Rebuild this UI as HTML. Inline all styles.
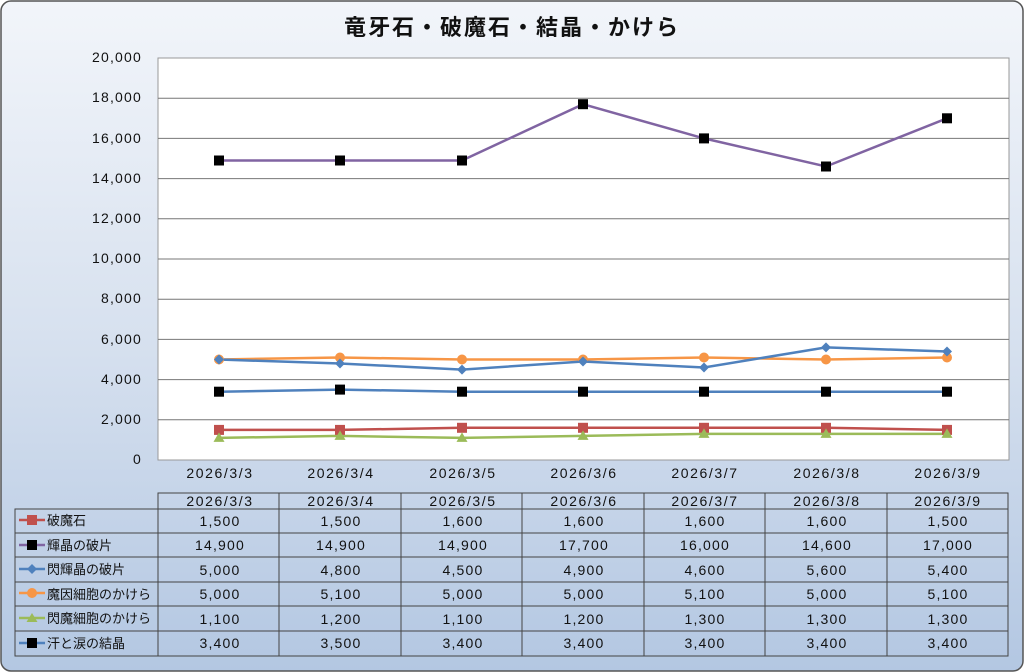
<!DOCTYPE html>
<html><head><meta charset="utf-8"><style>
body{margin:0;width:1024px;height:672px;overflow:hidden;background:#fff}
svg{display:block;font-family:"Liberation Sans","Noto Sans CJK JP",sans-serif}
.n{font-size:14px;letter-spacing:1.2px}
.d{font-size:14px;letter-spacing:1.6px}
</style></head><body>
<svg width="1024" height="672" viewBox="0 0 1024 672">
<defs><linearGradient id="bg" x1="0" y1="0" x2="0" y2="1"><stop offset="0" stop-color="#f2f5fa"/><stop offset="0.5" stop-color="#d7e1ef"/><stop offset="1" stop-color="#b3c7e2"/></linearGradient></defs>
<rect x="1" y="1" width="1022" height="670" rx="10" fill="url(#bg)" stroke="#555" stroke-width="1.5"/>
<text x="512" y="35" text-anchor="middle" font-size="22" letter-spacing="2" font-weight="bold" fill="#111">竜牙石・破魔石・結晶・かけら</text>
<rect x="158" y="58" width="851" height="402" fill="#fff" stroke="#999"/>
<g stroke="#777" stroke-width="1">
<line x1="158" y1="419.8" x2="1009" y2="419.8"/><line x1="158" y1="379.6" x2="1009" y2="379.6"/><line x1="158" y1="339.4" x2="1009" y2="339.4"/><line x1="158" y1="299.2" x2="1009" y2="299.2"/><line x1="158" y1="259" x2="1009" y2="259"/><line x1="158" y1="218.8" x2="1009" y2="218.8"/><line x1="158" y1="178.6" x2="1009" y2="178.6"/><line x1="158" y1="138.4" x2="1009" y2="138.4"/><line x1="158" y1="98.2" x2="1009" y2="98.2"/>
</g>
<g class="n" fill="#111" text-anchor="end">
<text x="142" y="464">0</text><text x="142" y="424">2,000</text><text x="142" y="384">4,000</text><text x="142" y="344">6,000</text><text x="142" y="303">8,000</text><text x="142" y="263">10,000</text><text x="142" y="223">12,000</text><text x="142" y="183">14,000</text><text x="142" y="143">16,000</text><text x="142" y="102">18,000</text><text x="142" y="62">20,000</text>
</g>
<g class="d" fill="#111" text-anchor="middle">
<text x="220" y="478">2026/3/3</text><text x="341" y="478">2026/3/4</text><text x="463" y="478">2026/3/5</text><text x="584" y="478">2026/3/6</text><text x="705" y="478">2026/3/7</text><text x="827" y="478">2026/3/8</text><text x="948" y="478">2026/3/9</text>
</g>
<polyline fill="none" stroke="#8064a2" stroke-width="2.5" points="219,160.5 340,160.5 462,160.5 583,104.2 704,138.4 826,166.5 947,118.3"/>
<polyline fill="none" stroke="#f79646" stroke-width="2.5" points="219,359.5 340,357.5 462,359.5 583,359.5 704,357.5 826,359.5 947,357.5"/>
<polyline fill="none" stroke="#4f81bd" stroke-width="2.5" points="219,359.5 340,363.5 462,369.6 583,361.5 704,367.5 826,347.4 947,351.5"/>
<polyline fill="none" stroke="#4f81bd" stroke-width="2.5" points="219,391.7 340,389.6 462,391.7 583,391.7 704,391.7 826,391.7 947,391.7"/>
<polyline fill="none" stroke="#c0504d" stroke-width="2.5" points="219,429.9 340,429.9 462,427.8 583,427.8 704,427.8 826,427.8 947,429.9"/>
<polyline fill="none" stroke="#9bbb59" stroke-width="2.5" points="219,437.9 340,435.9 462,437.9 583,435.9 704,433.9 826,433.9 947,433.9"/>
<g fill="#000">
<rect x="214" y="155.5" width="10" height="10"/><rect x="335" y="155.5" width="10" height="10"/><rect x="457" y="155.5" width="10" height="10"/><rect x="578" y="99.2" width="10" height="10"/><rect x="699" y="133.4" width="10" height="10"/><rect x="821" y="161.5" width="10" height="10"/><rect x="942" y="113.3" width="10" height="10"/>
<rect x="214" y="386.7" width="10" height="10"/><rect x="335" y="384.6" width="10" height="10"/><rect x="457" y="386.7" width="10" height="10"/><rect x="578" y="386.7" width="10" height="10"/><rect x="699" y="386.7" width="10" height="10"/><rect x="821" y="386.7" width="10" height="10"/><rect x="942" y="386.7" width="10" height="10"/>
</g>
<g fill="#f79646">
<circle cx="219" cy="359.5" r="5"/><circle cx="340" cy="357.5" r="5"/><circle cx="462" cy="359.5" r="5"/><circle cx="583" cy="359.5" r="5"/><circle cx="704" cy="357.5" r="5"/><circle cx="826" cy="359.5" r="5"/><circle cx="947" cy="357.5" r="5"/>
</g>
<g fill="#4f81bd">
<path d="M219,354.5l5,5-5,5-5-5z"/><path d="M340,358.5l5,5-5,5-5-5z"/><path d="M462,364.6l5,5-5,5-5-5z"/><path d="M583,356.5l5,5-5,5-5-5z"/><path d="M704,362.5l5,5-5,5-5-5z"/><path d="M826,342.4l5,5-5,5-5-5z"/><path d="M947,346.5l5,5-5,5-5-5z"/>
</g>
<g fill="#c0504d">
<rect x="214" y="424.9" width="10" height="10"/><rect x="335" y="424.9" width="10" height="10"/><rect x="457" y="422.8" width="10" height="10"/><rect x="578" y="422.8" width="10" height="10"/><rect x="699" y="422.8" width="10" height="10"/><rect x="821" y="422.8" width="10" height="10"/><rect x="942" y="424.9" width="10" height="10"/>
</g>
<g fill="#9bbb59">
<path d="M219,432.4l5.5,9.5h-11z"/><path d="M340,430.4l5.5,9.5h-11z"/><path d="M462,432.4l5.5,9.5h-11z"/><path d="M583,430.4l5.5,9.5h-11z"/><path d="M704,428.4l5.5,9.5h-11z"/><path d="M826,428.4l5.5,9.5h-11z"/><path d="M947,428.4l5.5,9.5h-11z"/>
</g>
<g stroke="#444" stroke-width="1" fill="none">
<rect x="158" y="493" width="850" height="163"/>
<rect x="15" y="509" width="993" height="147"/>
<line x1="158" y1="509" x2="1008" y2="509"/><line x1="15" y1="533" x2="1008" y2="533"/><line x1="15" y1="557" x2="1008" y2="557"/><line x1="15" y1="582" x2="1008" y2="582"/><line x1="15" y1="606" x2="1008" y2="606"/><line x1="15" y1="631" x2="1008" y2="631"/>
<line x1="279" y1="493" x2="279" y2="656"/><line x1="401" y1="493" x2="401" y2="656"/><line x1="522" y1="493" x2="522" y2="656"/><line x1="644" y1="493" x2="644" y2="656"/><line x1="765" y1="493" x2="765" y2="656"/><line x1="887" y1="493" x2="887" y2="656"/>
</g>
<g class="d" fill="#111" text-anchor="middle">
<text x="220" y="506">2026/3/3</text><text x="341" y="506">2026/3/4</text><text x="463" y="506">2026/3/5</text><text x="584" y="506">2026/3/6</text><text x="705" y="506">2026/3/7</text><text x="827" y="506">2026/3/8</text><text x="948" y="506">2026/3/9</text>
</g>
<g class="n" fill="#111" text-anchor="middle">
<g transform="translate(1,526)"><text x="219">1,500</text><text x="340">1,500</text><text x="462">1,600</text><text x="583">1,600</text><text x="704">1,600</text><text x="826">1,600</text><text x="947">1,500</text></g>
<g transform="translate(1,550)"><text x="219">14,900</text><text x="340">14,900</text><text x="462">14,900</text><text x="583">17,700</text><text x="704">16,000</text><text x="826">14,600</text><text x="947">17,000</text></g>
<g transform="translate(1,575)"><text x="219">5,000</text><text x="340">4,800</text><text x="462">4,500</text><text x="583">4,900</text><text x="704">4,600</text><text x="826">5,600</text><text x="947">5,400</text></g>
<g transform="translate(1,599)"><text x="219">5,000</text><text x="340">5,100</text><text x="462">5,000</text><text x="583">5,000</text><text x="704">5,100</text><text x="826">5,000</text><text x="947">5,100</text></g>
<g transform="translate(1,624)"><text x="219">1,100</text><text x="340">1,200</text><text x="462">1,100</text><text x="583">1,200</text><text x="704">1,300</text><text x="826">1,300</text><text x="947">1,300</text></g>
<g transform="translate(1,648)"><text x="219">3,400</text><text x="340">3,500</text><text x="462">3,400</text><text x="583">3,400</text><text x="704">3,400</text><text x="826">3,400</text><text x="947">3,400</text></g>
</g>
<g stroke-width="2.5">
<line x1="19" y1="520" x2="45" y2="520" stroke="#c0504d"/><rect x="27" y="515" width="10" height="10" fill="#c0504d"/>
<line x1="19" y1="545" x2="45" y2="545" stroke="#8064a2"/><rect x="27" y="540" width="10" height="10" fill="#000"/>
<line x1="19" y1="569" x2="45" y2="569" stroke="#4f81bd"/><path d="M32,564l5,5-5,5-5-5z" fill="#4f81bd"/>
<line x1="19" y1="593" x2="45" y2="593" stroke="#f79646"/><circle cx="32" cy="593" r="5" fill="#f79646"/>
<line x1="19" y1="618" x2="45" y2="618" stroke="#9bbb59"/><path d="M32,613l5.5,9h-11z" fill="#9bbb59"/>
<line x1="19" y1="643" x2="45" y2="643" stroke="#4f81bd"/><rect x="27" y="638" width="10" height="10" fill="#000"/>
</g>
<g font-size="13" fill="#111">
<text x="47" y="525">破魔石</text><text x="47" y="550">輝晶の破片</text><text x="47" y="574">閃輝晶の破片</text><text x="47" y="599">魔因細胞のかけら</text><text x="47" y="623">閃魔細胞のかけら</text><text x="47" y="648">汗と涙の結晶</text>
</g>
</svg>
</body></html>
